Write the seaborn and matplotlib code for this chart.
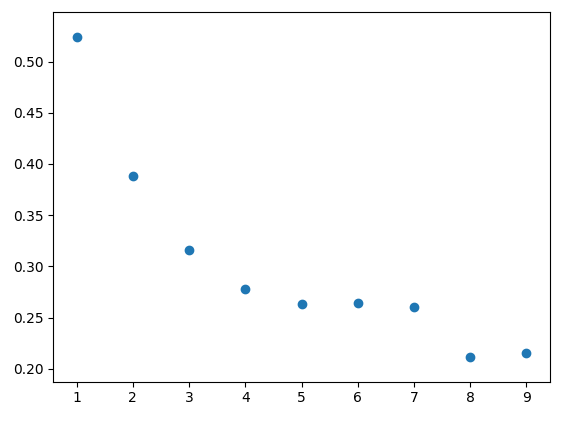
import matplotlib
matplotlib.use("Agg")
import matplotlib.pyplot as plt
import seaborn as sns

k_values = [1, 2, 3, 4, 5, 6, 7, 8, 9]
scores = [0.524, 0.388, 0.316, 0.278, 0.263, 0.264, 0.260, 0.212, 0.215]

fig = plt.figure(figsize=(5.71, 4.21), dpi=100)
ax = fig.add_axes([53 / 571, 39.5 / 421, 497 / 571, 369.6 / 421])
sns.scatterplot(x=k_values, y=scores, ax=ax, s=36, color='#1f77b4',
                edgecolor='#1f77b4', linewidth=1)
ax.set_xlim(0.58, 9.42)
ax.set_ylim(0.1876, 0.5485)
fig.savefig("out.png", dpi=100)
